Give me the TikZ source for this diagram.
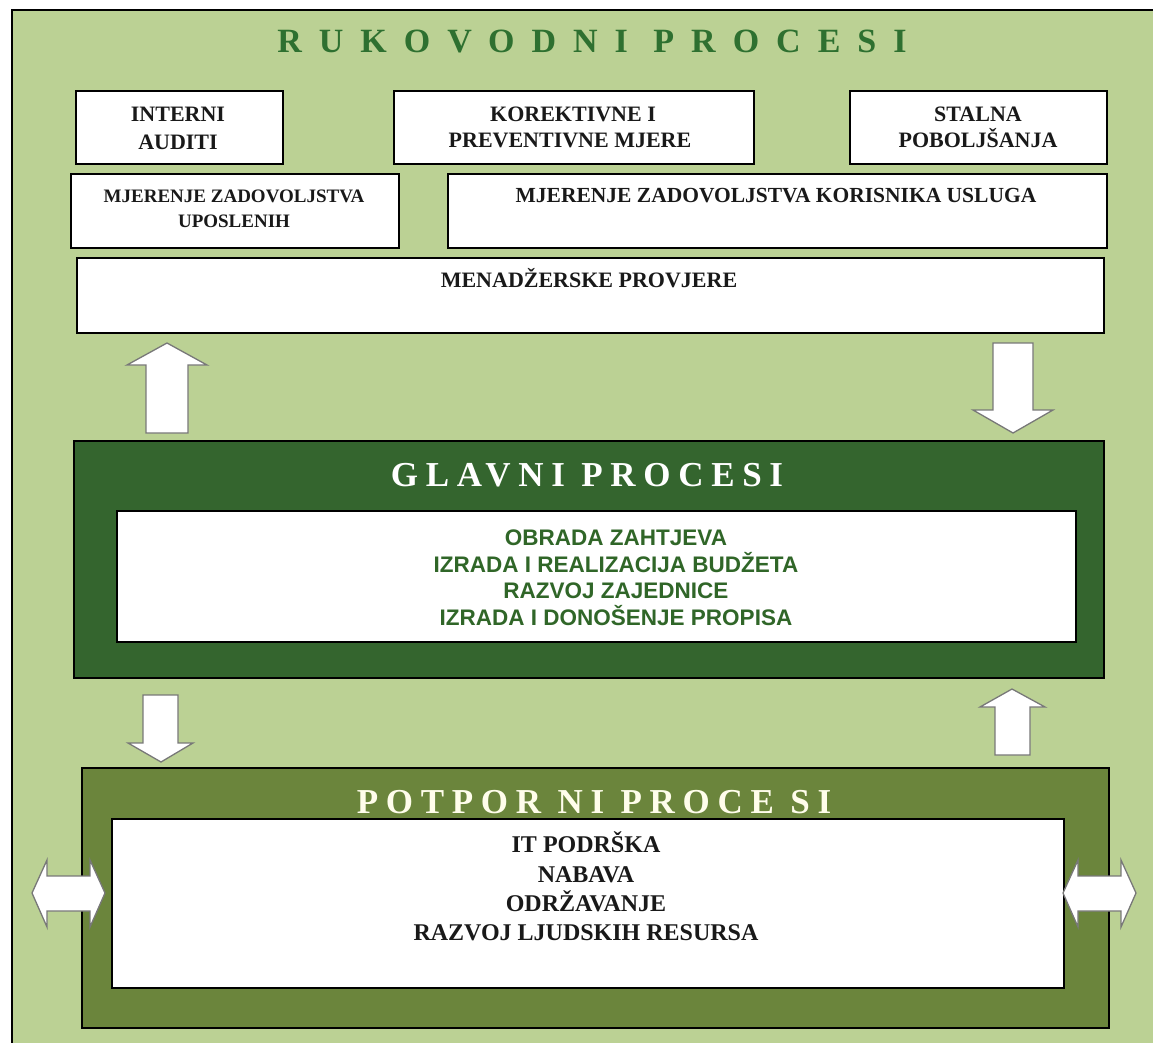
\documentclass[tikz,border=0pt]{standalone}
\usepackage{fontspec}
\setmainfont{Liberation Serif}
\newfontfamily\sansfam{Liberation Sans}
\newfontfamily\titlefam[LetterSpace=50]{Liberation Serif}
\newfontfamily\headfam[LetterSpace=22]{Liberation Serif}
\definecolor{lightbg}{RGB}{187,209,148}
\definecolor{darkgr}{RGB}{52,101,46}
\definecolor{olivegr}{RGB}{107,133,60}
\definecolor{titlegr}{RGB}{46,112,48}
\definecolor{textgr}{RGB}{48,102,40}
\definecolor{cream}{RGB}{255,253,235}
\definecolor{arrowgr}{RGB}{120,120,120}
\tikzset{
  wbox/.style={draw=black, line width=1.8pt, fill=white, inner sep=0pt, anchor=north west},
  bigbox/.style={draw=black, line width=1.8pt, inner sep=0pt, anchor=north west},
  blockarrow/.style={draw=arrowgr, line width=1.3pt, fill=white, line join=miter},
  sertext/.style={inner sep=0pt, anchor=base, text=black!90, font=\bfseries\fontsize{22}{26}\selectfont},
  smalltext/.style={sertext, font=\bfseries\fontsize{19}{23}\selectfont},
  midtext/.style={sertext, font=\bfseries\fontsize{21.5}{25}\selectfont},
  greentext/.style={inner sep=0pt, anchor=base, text=textgr, font=\sansfam\bfseries\fontsize{22.5}{26}\selectfont},
  lowtext/.style={inner sep=0pt, anchor=base, text=black!90, font=\bfseries\fontsize{24}{28}\selectfont},
}
\begin{document}
\begin{tikzpicture}[x=1pt,y=-1pt]
\useasboundingbox (0,0) rectangle (1153,1043);
% outer frame
\filldraw[fill=lightbg, draw=black, line width=2pt] (12,10) rectangle (1165,1055);
% title
\node[inner sep=0pt, anchor=base, text=titlegr, font=\titlefam\bfseries\fontsize{34}{38}\selectfont] (title) at (592,53) {RUKOVODNI PROCESI};
% top row
\node[wbox, minimum width=207pt, minimum height=73pt] (ia) at (75,90) {};
\node[wbox, minimum width=360pt, minimum height=73pt] (km) at (393,90) {};
\node[wbox, minimum width=257pt, minimum height=73pt] (sp) at (849,90) {};
% second row
\node[wbox, minimum width=328pt, minimum height=74pt] (mzu) at (70,173) {};
\node[wbox, minimum width=659pt, minimum height=74pt] (mzk) at (447,173) {};
% third row
\node[wbox, minimum width=1027pt, minimum height=75pt] (mp) at (76,257) {};
% main processes
\node[bigbox, fill=darkgr, minimum width=1030pt, minimum height=237pt] (gp) at (73,440) {};
\node[wbox, minimum width=959pt, minimum height=131pt] (gpin) at (116,510) {};
% support processes
\node[bigbox, fill=olivegr, minimum width=1027pt, minimum height=260pt] (pp) at (81,767) {};
\node[wbox, minimum width=952pt, minimum height=169pt] (ppin) at (111,818) {};
% texts top row
\node[sertext] (ia1) at (178,122) {INTERNI};
\node[sertext] (ia2) at (178,150) {AUDITI};
\node[sertext] (km1) at (573,122) {KOREKTIVNE I};
\node[sertext] (km2) at (570,148) {PREVENTIVNE MJERE};
\node[sertext] (sp1) at (978,122) {STALNA};
\node[sertext] (sp2) at (978,148) {POBOLJŠANJA};
\node[smalltext] (mzu1) at (234,203) {MJERENJE ZADOVOLJSTVA};
\node[smalltext] (mzu2) at (234,227) {UPOSLENIH};
\node[midtext] (mzk1) at (776,203) {MJERENJE ZADOVOLJSTVA KORISNIKA USLUGA};
\node[sertext] (mp1) at (589,287) {MENADŽERSKE PROVJERE};
% main processes texts
\node[inner sep=0pt, anchor=base, text=white, font=\headfam\bfseries\fontsize{35}{40}\selectfont] (gpt) at (587,486) {GLAVNI PROCESI};
\node[greentext] (g1) at (616,545) {OBRADA ZAHTJEVA};
\node[greentext] (g2) at (616,572) {IZRADA I REALIZACIJA BUDŽETA};
\node[greentext] (g3) at (616,598) {RAZVOJ ZAJEDNICE};
\node[greentext] (g4) at (616,625) {IZRADA I DONOŠENJE PROPISA};
% support processes texts
\node[inner sep=0pt, anchor=base, text=cream, font=\headfam\bfseries\fontsize{35}{40}\selectfont] (ppt) at (594,813) {POTPOR NI PROCE SI};
\node[lowtext] (p1) at (586,852) {IT PODRŠKA};
\node[lowtext] (p2) at (586,882) {NABAVA};
\node[lowtext] (p3) at (586,911) {ODRŽAVANJE};
\node[lowtext] (p4) at (586,940) {RAZVOJ LJUDSKIH RESURSA};
% block arrows
% up arrow (main -> management), left
\draw[blockarrow] (167,343) -- (207,365) -- (188,365) -- (188,433) -- (146,433) -- (146,365) -- (127,365) -- cycle;
% down arrow (management -> main), right
\draw[blockarrow] (1013,433) -- (1053,410) -- (1033,410) -- (1033,343) -- (993,343) -- (993,410) -- (973,410) -- cycle;
% down arrow (main -> support), left
\draw[blockarrow] (161,762) -- (193,743) -- (178,743) -- (178,695) -- (143,695) -- (143,743) -- (128,743) -- cycle;
% up arrow (support -> main), right
\draw[blockarrow] (1012,689) -- (1045,707) -- (1030,707) -- (1030,755) -- (995,755) -- (995,707) -- (980,707) -- cycle;
% side double arrows
\draw[blockarrow] (32,893) -- (47,860) -- (47,876) -- (90,876) -- (90,860) -- (105,893) -- (90,927) -- (90,911) -- (47,911) -- (47,927) -- cycle;
\draw[blockarrow] (1063,893) -- (1078,860) -- (1078,876) -- (1121,876) -- (1121,860) -- (1136,893) -- (1121,927) -- (1121,911) -- (1078,911) -- (1078,927) -- cycle;
\end{tikzpicture}
\end{document}
